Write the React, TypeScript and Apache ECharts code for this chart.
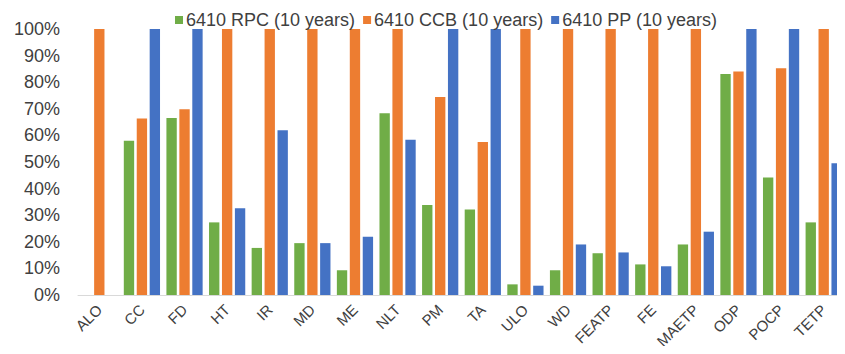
import React, { useEffect, useRef } from "react";
import * as echarts from "echarts";

const categories = ["ALO", "CC", "FD", "HT", "IR", "MD", "ME", "NLT", "PM", "TA", "ULO", "WD", "FEATP", "FE", "MAETP", "ODP", "POCP", "TETP"];
const rpc = [null, 58, 66.5, 27.3, 17.7, 19.5, 9.3, 68.3, 33.8, 32.1, 4.0, 9.3, 15.7, 11.5, 19.0, 83.1, 44.2, 27.3];
const ccb = [100, 66.4, 69.8, 100, 100, 100, 100, 100, 74.4, 57.5, 100, 100, 100, 100, 100, 84.0, 85.2, 100];
const pp = [null, 100, 100, 32.6, 61.9, 19.5, 21.9, 58.4, 100, 100, 3.5, 19.0, 16.0, 10.8, 23.8, 100, 100, 49.5];
const seriesNames = ["6410 RPC (10 years)", "6410 CCB (10 years)", "6410 PP (10 years)"];
const colors = ["#70AD47", "#ED7D31", "#4472C4"];

export default function App() {
  const ref = useRef<HTMLDivElement>(null);
  useEffect(() => {
    if (!ref.current) return;
    const chart = echarts.init(ref.current, null, { renderer: "svg" });
    const font = "Liberation Sans, Arial, sans-serif";
    const data = [rpc, ccb, pp];
    chart.setOption({
      animation: false,
      color: colors,
      textStyle: { fontFamily: font },
      legend: {
        left: 170,
        top: 6,
        itemWidth: 8,
        itemHeight: 8,
        itemGap: 8,
        icon: "rect",
        textStyle: { fontSize: 18, color: "#404040", fontFamily: font, padding: [0, 0, 0, -2] },
      },
      grid: { left: 78, right: -4, top: 29, bottom: 59, containLabel: false },
      xAxis: {
        type: "category",
        data: categories,
        axisLine: { lineStyle: { color: "#D9D9D9", width: 1 } },
        axisTick: { show: false },
        axisLabel: { rotate: 45, fontSize: 15, color: "#404040", margin: 12, interval: 0, fontFamily: font },
      },
      yAxis: {
        type: "value",
        min: 0,
        max: 100,
        interval: 10,
        axisLine: { show: false },
        axisTick: { show: false },
        splitLine: { show: false },
        axisLabel: { formatter: "{value}%", fontSize: 18, color: "#404040", margin: 18, fontFamily: font },
      },
      series: seriesNames.map((name, i) => ({
        name,
        type: "bar",
        data: data[i],
        barGap: "25%",
        barCategoryGap: "15%",
        itemStyle: { color: colors[i] },
      })),
    });
    return () => chart.dispose();
  }, []);
  return <div ref={ref} style={{ width: 845, height: 354, margin: -8 }} />;
}
